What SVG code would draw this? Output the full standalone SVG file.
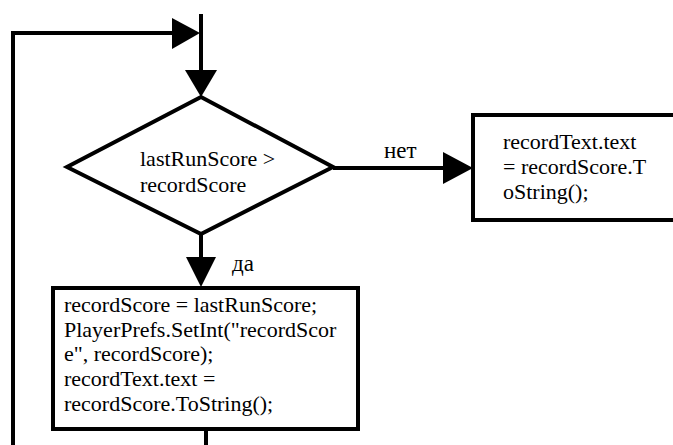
<svg xmlns="http://www.w3.org/2000/svg" width="673" height="445" viewBox="0 0 673 445">
  <style>
    .line { fill: none; stroke: #000; stroke-width: 4; }
    .shape { fill: #fff; stroke: #000; stroke-width: 4; }
    .head { fill: #000; stroke: none; }
    .txt { font-family: "Liberation Serif", "Times New Roman", serif; font-size: 22px; fill: #000; }
    .lbl { font-family: "Liberation Serif", "Times New Roman", serif; font-size: 23px; fill: #000; }
  </style>
  <rect width="673" height="445" fill="#fff"/>

  <g id="connectors">
    <!-- loop back from below into the entry line -->
    <polyline class="line" points="13,445 13,33 174,33"/>
    <polygon class="head" points="172,18 200,33 172,49"/>
    <!-- entry into the decision -->
    <line class="line" x1="201" y1="14" x2="201" y2="72"/>
    <polygon class="head" points="185,70 217,70 201,97"/>
    <!-- "no" branch -->
    <line class="line" x1="333" y1="168" x2="445" y2="168"/>
    <polygon class="head" points="443,152 473,168 443,184"/>
    <text class="lbl" x="384" y="158">нет</text>
    <!-- "yes" branch -->
    <line class="line" x1="201" y1="234" x2="201" y2="259"/>
    <polygon class="head" points="186,257 216,257 201,287"/>
    <text class="lbl" x="232" y="271">да</text>
    <!-- exit below the update block -->
    <line class="line" x1="206" y1="429" x2="206" y2="445"/>
  </g>

  <g id="decision">
    <polygon class="shape" points="201,97 333,167 201,234 67,167"/>
    <text class="txt" x="140" y="166">lastRunScore &gt;</text>
    <text class="txt" x="140" y="192">recordScore</text>
  </g>

  <g id="show-record">
    <rect class="shape" x="473" y="115" width="205" height="105"/>
    <text class="txt" x="503" y="149">recordText.text</text>
    <text class="txt" x="503" y="174">= recordScore.T</text>
    <text class="txt" x="503" y="199">oString();</text>
  </g>

  <g id="update-record">
    <rect class="shape" x="53" y="288" width="305" height="141"/>
    <text class="txt" x="64" y="312">recordScore = lastRunScore;</text>
    <text class="txt" x="64" y="337">PlayerPrefs.SetInt("recordScor</text>
    <text class="txt" x="64" y="361">e", recordScore);</text>
    <text class="txt" x="64" y="386">recordText.text =</text>
    <text class="txt" x="64" y="411">recordScore.ToString();</text>
  </g>
</svg>
